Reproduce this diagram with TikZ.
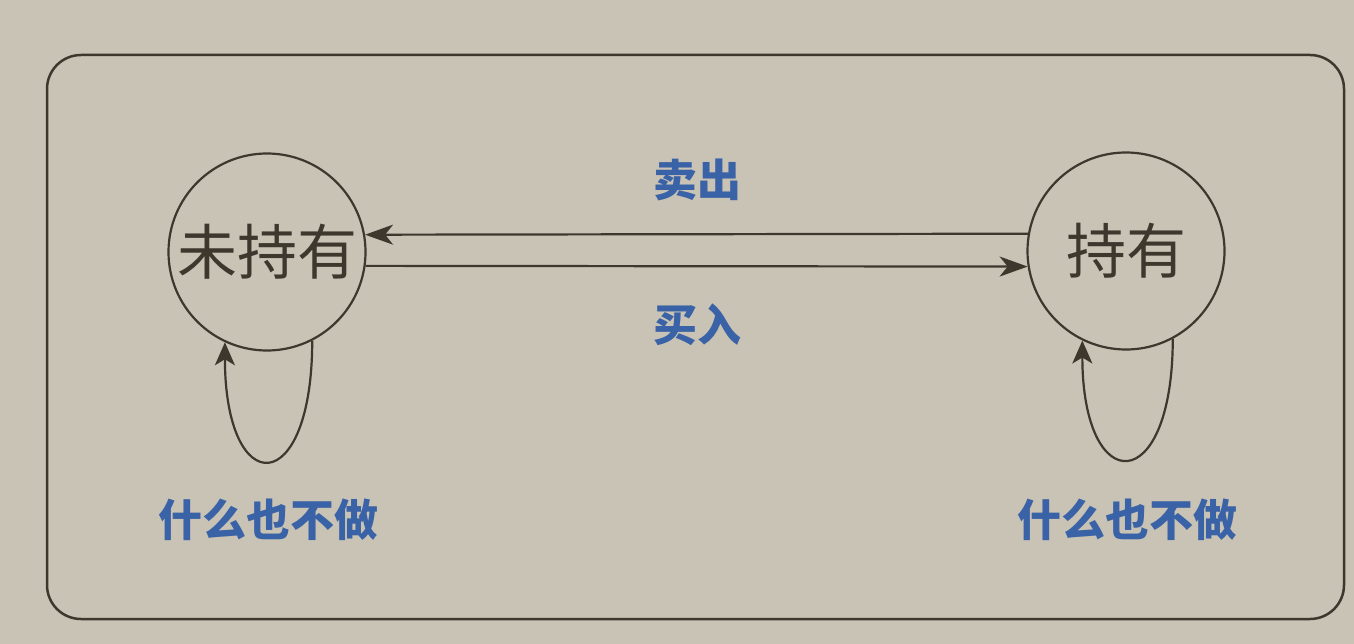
\documentclass[tikz,border=0pt]{standalone}
\usepackage{fontspec}
\newfontfamily\cjk{Noto Sans CJK SC}
\usetikzlibrary{arrows.meta}
\definecolor{bgc}{HTML}{C9C3B5}
\definecolor{ink}{HTML}{3D372E}
\definecolor{lblue}{HTML}{3A62A6}
\begin{document}
\begin{tikzpicture}[x=1pt,y=-1pt,
  statenode/.style={circle,draw=ink,line width=2.2pt,minimum size=197pt,inner sep=0pt,text=ink,font=\cjk\fontsize{60}{60}\selectfont},
  lbl/.style={text=lblue,font=\cjk\bfseries\fontsize{44}{44}\selectfont,inner sep=0pt},
  arr/.style={draw=ink,line width=2.2pt,-{Stealth[length=28pt,width=20pt,inset=8pt]}},
  looparr/.style={draw=ink,line width=2.2pt,-{Stealth[length=23pt,width=20pt,inset=6pt]}}]
\fill[bgc] (0,0) rectangle (1354,644);
\useasboundingbox (0,0) rectangle (1354,644);
\draw[ink,line width=2.5pt,rounded corners=34pt] (47,55) rectangle (1344,619);
\node[statenode] (L) at (267,252) {未持有};
\node[statenode] (R) at (1126,251) {持有};
\draw[arr] (R.170) -- (L.10);
\draw[arr] (L.-8) -- (R.189);
\draw[looparr] (L.-63) .. controls +(0,159) and +(0,159) .. (L.-115);
\draw[looparr] (R.-62) .. controls +(0,159) and +(0,159) .. (R.-116);
\node[lbl] (sell) at (697,180) {卖出};
\node[lbl] (buy) at (697,325) {买入};
\node[lbl] (n1) at (268,520) {什么也不做};
\node[lbl] (n2) at (1127,520) {什么也不做};
\end{tikzpicture}
\end{document}
